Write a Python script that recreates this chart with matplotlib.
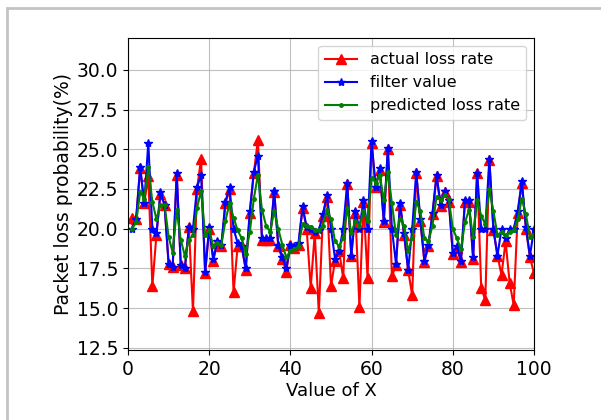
import matplotlib.pyplot as plt
from matplotlib.patches import Rectangle

x = list(range(1, 101))

actual = [20.7, 20.6, 23.8, 21.6, 23.3, 16.4, 19.6, 22.2, 21.5, 17.8,
          17.6, 23.4, 17.7, 17.5, 20.1, 14.8, 22.5, 24.4, 17.2, 20.0,
          18.0, 19.1, 18.9, 21.6, 22.5, 16.0, 18.9, 18.9, 17.4, 21.0,
          23.5, 25.6, 19.3, 19.3, 19.3, 22.3, 18.9, 18.1, 17.3, 19.0,
          18.8, 19.0, 21.3, 20.0, 16.3, 19.7, 14.7, 20.8, 22.0, 16.4,
          18.0, 18.6, 16.9, 22.8, 18.3, 21.0, 15.1, 21.7, 16.9, 25.4,
          22.6, 23.7, 20.4, 25.0, 17.0, 17.7, 21.5, 19.6, 17.4, 15.8,
          23.5, 20.5, 17.9, 18.9, 20.9, 23.3, 21.4, 22.3, 21.7, 18.4,
          18.8, 17.9, 21.7, 21.7, 18.1, 23.5, 16.3, 15.5, 24.3, 19.9,
          18.3, 17.1, 19.2, 16.6, 15.2, 21.0, 22.9, 20.0, 18.2, 17.2]

filtered = [20.0, 20.6, 23.9, 21.6, 25.4, 20.0, 19.7, 22.3, 21.5, 17.8,
            17.6, 23.5, 17.7, 17.5, 20.1, 20.0, 22.6, 23.4, 17.3, 20.1,
            18.1, 19.2, 19.0, 21.7, 22.6, 20.0, 19.1, 18.9, 17.5, 21.1,
            23.6, 24.6, 19.4, 19.4, 19.4, 22.4, 19.0, 18.2, 17.5, 19.0,
            18.9, 19.1, 21.4, 20.1, 20.0, 19.8, 19.9, 20.9, 22.1, 20.0,
            18.1, 18.6, 20.0, 22.9, 18.3, 21.1, 20.0, 21.8, 20.0, 25.5,
            22.6, 23.8, 20.5, 25.1, 20.0, 17.8, 21.6, 19.7, 17.4, 20.0,
            23.6, 20.6, 18.0, 19.0, 21.0, 23.4, 21.5, 22.4, 21.8, 18.5,
            18.9, 18.0, 21.8, 21.8, 18.2, 23.5, 20.0, 20.0, 24.4, 20.0,
            18.3, 20.0, 19.4, 20.0, 20.0, 21.1, 23.0, 20.1, 18.3, 20.0]

predicted = [20.0, 20.4, 22.3, 21.9, 23.9, 21.7, 20.6, 21.5, 21.5, 19.5,
             18.5, 21.2, 19.3, 18.3, 19.3, 19.6, 21.3, 22.4, 19.6, 19.9,
             18.9, 19.1, 19.0, 20.5, 21.6, 20.7, 19.9, 19.4, 18.4, 19.8,
             21.9, 23.4, 21.2, 20.2, 19.8, 21.1, 20.0, 19.0, 18.2, 18.6,
             18.7, 18.9, 20.3, 20.2, 20.1, 19.9, 19.9, 20.2, 21.2, 20.6,
             19.2, 18.9, 19.4, 21.3, 19.7, 20.5, 20.2, 21.1, 20.5, 23.2,
             22.9, 23.4, 21.8, 23.6, 21.6, 19.6, 20.6, 20.2, 18.6, 19.4,
             21.7, 21.1, 19.4, 19.2, 20.2, 22.0, 21.8, 22.1, 21.9, 20.0,
             19.4, 18.7, 20.4, 21.2, 19.5, 21.8, 20.8, 20.3, 22.5, 21.1,
             19.6, 19.8, 19.6, 19.8, 19.9, 20.6, 21.9, 20.9, 19.5, 19.6]

fig = plt.figure(figsize=(6.01, 4.2), dpi=100)
ax = fig.add_axes([128 / 601, 1 - 350 / 420, 406 / 601, 312 / 420])

# light gray frame around the figure
fig.patches.append(Rectangle((7 / 601, -0.02), 1.0, 1 - 8 / 420 + 0.02,
                             transform=fig.transFigure, fill=False,
                             edgecolor='#c4c4c4', linewidth=2))

ax.plot(x, actual, color='red', marker='^', markersize=7, linewidth=1.5,
        label='actual loss rate')
ax.plot(x, filtered, color='blue', marker='*', markersize=6, linewidth=1.5,
        label='filter value')
ax.plot(x, predicted, color='green', marker='.', markersize=5, linewidth=1.5,
        label='predicted loss rate')

ax.set_xlim(0, 100)
ax.set_ylim(12.37, 32.0)
ax.set_yticks([12.5, 15.0, 17.5, 20.0, 22.5, 25.0, 27.5, 30.0])
ax.grid(True, color='#b0b0b0', linewidth=0.8, alpha=0.8)
ax.tick_params(labelsize=13.5)
ax.set_xlabel('Value of X', fontsize=13, labelpad=2)
ax.set_ylabel('Packet loss probability(%)', fontsize=13.5, labelpad=3)
ax.legend(loc='upper right', fontsize=11.5)

fig.savefig('out.png', dpi=100)
